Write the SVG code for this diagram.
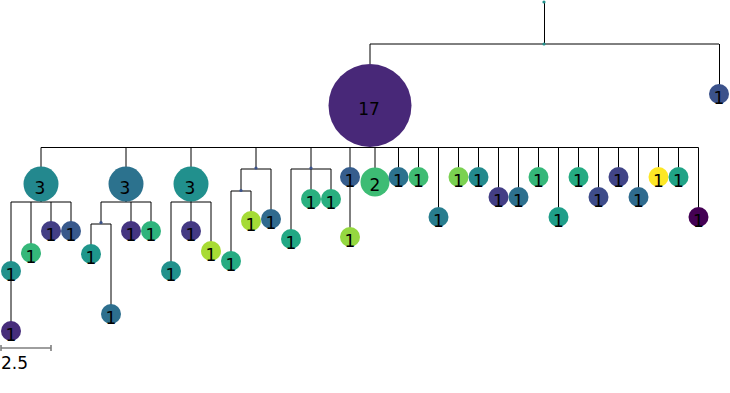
<svg xmlns="http://www.w3.org/2000/svg" width="730" height="393" viewBox="0 0 730 393">
<style>
.e{stroke:#000;stroke-width:1;fill:none}
.s{stroke:#7f7f7f;stroke-width:1.6;fill:none}
.t{font-family:"DejaVu Sans","Liberation Sans",sans-serif;font-size:17px;text-anchor:middle;fill:#000}
.sc{font-family:"DejaVu Sans","Liberation Sans",sans-serif;font-size:17px;fill:#000}
</style>
<rect width="730" height="393" fill="#fff"/>
<g id="connectors">
<path class="e" d="M544.5 2V44M370 44H719M370 44V64M719.5 44V94"/>
<path class="e" d="M41 147.5H698.5"/>
<path class="e" d="M41 147.5V184M126 147.5V184M191 147.5V184M256 147.5V169M311 147.5V169M350 147.5V237M375 147.5V182"/>
<path class="e" d="M398.5 147.5V177M418.5 147.5V177M438.5 147.5V217M458.5 147.5V177M478.5 147.5V177M498.5 147.5V197M518.5 147.5V197M538.5 147.5V177M558.5 147.5V217M578.5 147.5V177M598.5 147.5V197M618.5 147.5V177M638.5 147.5V197M658.5 147.5V177M678.5 147.5V177M698.5 147.5V217"/>
<path class="e" d="M41 184V202M11 202H71M11 202V331M31 202V253M51 202V231M71 202V231"/>
<path class="e" d="M126 184V202M101 202H151M101 202V224M91 224H111M91 224V254M111 224V314M131 202V231M151 202V231"/>
<path class="e" d="M191 184V202M171 202H211M171 202V271M191 202V231M211 202V251"/>
<path class="e" d="M241 169H271M241 169V191M231 191H251M231 191V261M251 191V221M271 169V219"/>
<path class="e" d="M291 169H331M291 169V239M311 169V199M331 169V199"/>
<path class="s" d="M1 348H51M1 345V351M51 345V351"/>
</g>
<g id="root"><circle cx="544" cy="2" r="1.6" fill="#21918c"/></g>
<g id="n0"><circle cx="544" cy="44" r="1.6" fill="#21918c"/></g>
<g id="n17"><circle cx="370" cy="105.5" r="41.5" fill="#482878"/><text class="t" x="369" y="114.5">17</text></g>
<g id="nR"><circle cx="719" cy="94" r="10" fill="#3b528b"/><text class="t" x="719" y="103.5">1</text></g>
<g id="a"><circle cx="41" cy="184" r="17.5" fill="#23888e"/><text class="t" x="40" y="193.5">3</text></g>
<g id="a1"><circle cx="11" cy="271" r="10" fill="#21918c"/><text class="t" x="11" y="280.5">1</text></g>
<g id="a1a"><circle cx="11" cy="331" r="10" fill="#472d7b"/><text class="t" x="11" y="340.5">1</text></g>
<g id="a2"><circle cx="31" cy="253" r="10" fill="#35b779"/><text class="t" x="31" y="262.5">1</text></g>
<g id="a3"><circle cx="51" cy="231" r="10" fill="#433e85"/><text class="t" x="51" y="240.5">1</text></g>
<g id="a4"><circle cx="71" cy="231" r="10" fill="#38598c"/><text class="t" x="71" y="240.5">1</text></g>
<g id="b"><circle cx="126" cy="184" r="17.5" fill="#2c728e"/><text class="t" x="125" y="193.5">3</text></g>
<g id="b0"><circle cx="101" cy="222.5" r="1.6" fill="#3b528b"/></g>
<g id="b1"><circle cx="91" cy="254" r="10" fill="#1f968b"/><text class="t" x="91" y="263.5">1</text></g>
<g id="b2"><circle cx="111" cy="314" r="10" fill="#2d6f8e"/><text class="t" x="111" y="323.5">1</text></g>
<g id="b3"><circle cx="131" cy="231" r="10" fill="#453581"/><text class="t" x="131" y="240.5">1</text></g>
<g id="b4"><circle cx="151" cy="231" r="10" fill="#2eb37c"/><text class="t" x="151" y="240.5">1</text></g>
<g id="c"><circle cx="191" cy="184" r="17.5" fill="#21908d"/><text class="t" x="190" y="193.5">3</text></g>
<g id="c1"><circle cx="171" cy="271" r="10" fill="#21918c"/><text class="t" x="171" y="280.5">1</text></g>
<g id="c2"><circle cx="191" cy="231" r="10" fill="#443983"/><text class="t" x="191" y="240.5">1</text></g>
<g id="c3"><circle cx="211" cy="251" r="10" fill="#a8db34"/><text class="t" x="211" y="260.5">1</text></g>
<g id="d"><circle cx="256" cy="168" r="1.6" fill="#3b528b"/></g>
<g id="d0"><circle cx="241" cy="190.5" r="1.6" fill="#3b528b"/></g>
<g id="d1"><circle cx="231" cy="261" r="10" fill="#25ab82"/><text class="t" x="231" y="270.5">1</text></g>
<g id="d2"><circle cx="251" cy="221" r="10" fill="#a5db36"/><text class="t" x="251" y="230.5">1</text></g>
<g id="d3"><circle cx="271" cy="219" r="10" fill="#306a8e"/><text class="t" x="271" y="228.5">1</text></g>
<g id="f"><circle cx="311" cy="168" r="1.6" fill="#3b528b"/></g>
<g id="f1"><circle cx="291" cy="239" r="10" fill="#22a884"/><text class="t" x="291" y="248.5">1</text></g>
<g id="f2"><circle cx="311" cy="199" r="10" fill="#2ab07f"/><text class="t" x="311" y="208.5">1</text></g>
<g id="f3"><circle cx="331" cy="199" r="10" fill="#29af7f"/><text class="t" x="331" y="208.5">1</text></g>
<g id="g"><circle cx="350" cy="177" r="10" fill="#365d8d"/><text class="t" x="350" y="186.5">1</text></g>
<g id="g1"><circle cx="350" cy="237" r="10" fill="#95d840"/><text class="t" x="350" y="246.5">1</text></g>
<g id="h"><circle cx="375" cy="182" r="14.5" fill="#3dbc74"/><text class="t" x="375" y="190.5">2</text></g>
<g id="i1"><circle cx="398.5" cy="177" r="10" fill="#2c728e"/><text class="t" x="398.5" y="186.5">1</text></g>
<g id="i2"><circle cx="418.5" cy="177" r="10" fill="#3fbc73"/><text class="t" x="418.5" y="186.5">1</text></g>
<g id="i3"><circle cx="438.5" cy="217" r="10" fill="#287d8e"/><text class="t" x="438.5" y="226.5">1</text></g>
<g id="i4"><circle cx="458.5" cy="177" r="10" fill="#7ad151"/><text class="t" x="458.5" y="186.5">1</text></g>
<g id="i5"><circle cx="478.5" cy="177" r="10" fill="#238a8d"/><text class="t" x="478.5" y="186.5">1</text></g>
<g id="i6"><circle cx="498.5" cy="197" r="10" fill="#433e85"/><text class="t" x="498.5" y="206.5">1</text></g>
<g id="i7"><circle cx="518.5" cy="197" r="10" fill="#2d708e"/><text class="t" x="518.5" y="206.5">1</text></g>
<g id="i8"><circle cx="538.5" cy="177" r="10" fill="#35b779"/><text class="t" x="538.5" y="186.5">1</text></g>
<g id="i9"><circle cx="558.5" cy="217" r="10" fill="#1f9e89"/><text class="t" x="558.5" y="226.5">1</text></g>
<g id="i10"><circle cx="578.5" cy="177" r="10" fill="#25ab82"/><text class="t" x="578.5" y="186.5">1</text></g>
<g id="i11"><circle cx="598.5" cy="197" r="10" fill="#3e4c8a"/><text class="t" x="598.5" y="206.5">1</text></g>
<g id="i12"><circle cx="618.5" cy="177" r="10" fill="#414487"/><text class="t" x="618.5" y="186.5">1</text></g>
<g id="i13"><circle cx="638.5" cy="197" r="10" fill="#2f6b8e"/><text class="t" x="638.5" y="206.5">1</text></g>
<g id="i14"><circle cx="658.5" cy="177" r="10" fill="#fde725"/><text class="t" x="658.5" y="186.5">1</text></g>
<g id="i15"><circle cx="678.5" cy="177" r="10" fill="#20a386"/><text class="t" x="678.5" y="186.5">1</text></g>
<g id="i16"><circle cx="698.5" cy="217" r="10" fill="#440154"/><text class="t" x="698.5" y="226.5">1</text></g>
<g id="scale"><text class="sc" x="1" y="369">2.5</text></g>
</svg>
